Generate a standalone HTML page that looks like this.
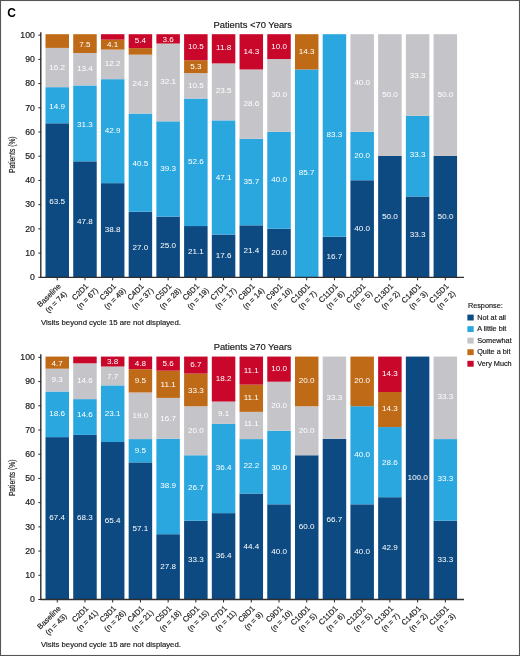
<!DOCTYPE html>
<html><head><meta charset="utf-8"><style>
html,body{margin:0;padding:0;background:#fff;width:520px;height:656px;overflow:hidden}
svg{display:block;filter:blur(0.35px)}
</style></head><body>
<svg width="520" height="656" viewBox="0 0 520 656" style="font-family:&quot;Liberation Sans&quot;, sans-serif">
<rect x="0.5" y="0.5" width="519" height="655" fill="none" stroke="#555" stroke-width="1.1"/>
<text x="7.2" y="17" font-size="12" font-weight="bold" fill="#000">C</text>
<text x="252.7" y="28.25" font-size="9.4" text-anchor="middle" fill="#1a1a1a" stroke="#1a1a1a" stroke-width="0.18">Patients &lt;70 Years</text>
<text transform="translate(14.8,154.65) rotate(-90) scale(0.79,1)" font-size="8.5" text-anchor="middle" fill="#1a1a1a" stroke="#1a1a1a" stroke-width="0.18">Patients (%)</text>
<rect x="45.50" y="123.28" width="23.5" height="153.92" fill="#0d4a82"/>
<rect x="45.50" y="87.16" width="23.5" height="36.12" fill="#2ba7e0"/>
<rect x="45.50" y="47.89" width="23.5" height="39.27" fill="#c5c4c9"/>
<rect x="45.50" y="34.20" width="23.5" height="13.69" fill="#bf6a17"/>
<text x="57.25" y="204.44" font-size="8.1" text-anchor="middle" fill="#fff">63.5</text>
<text x="57.25" y="108.62" font-size="8.1" text-anchor="middle" fill="#fff">14.9</text>
<text x="57.25" y="70.32" font-size="8.1" text-anchor="middle" fill="#fff">16.2</text>
<line x1="57.25" y1="277.30" x2="57.25" y2="280.30" stroke="#222" stroke-width="1.0"/>
<text transform="translate(61.17,286.74) rotate(-45)" font-size="7.7" fill="#1a1a1a" stroke="#1a1a1a" stroke-width="0.18"><tspan x="0" y="0" text-anchor="end">Baseline</tspan><tspan x="-14.47" y="9.8" text-anchor="middle">(n = 74)</tspan></text>
<rect x="73.22" y="161.33" width="23.5" height="115.87" fill="#0d4a82"/>
<rect x="73.22" y="85.46" width="23.5" height="75.87" fill="#2ba7e0"/>
<rect x="73.22" y="52.98" width="23.5" height="32.48" fill="#c5c4c9"/>
<rect x="73.22" y="34.20" width="23.5" height="18.78" fill="#bf6a17"/>
<text x="84.97" y="223.77" font-size="8.1" text-anchor="middle" fill="#fff">47.8</text>
<text x="84.97" y="126.75" font-size="8.1" text-anchor="middle" fill="#fff">31.3</text>
<text x="84.97" y="71.12" font-size="8.1" text-anchor="middle" fill="#fff">13.4</text>
<text x="84.97" y="46.74" font-size="8.1" text-anchor="middle" fill="#fff">7.5</text>
<line x1="84.97" y1="277.30" x2="84.97" y2="280.30" stroke="#222" stroke-width="1.0"/>
<text transform="translate(88.89,286.74) rotate(-45)" font-size="7.7" fill="#1a1a1a" stroke="#1a1a1a" stroke-width="0.18"><tspan x="0" y="0" text-anchor="end">C2D1</tspan><tspan x="-9.54" y="9.8" text-anchor="middle">(n = 67)</tspan></text>
<rect x="100.94" y="183.15" width="23.5" height="94.05" fill="#0d4a82"/>
<rect x="100.94" y="79.16" width="23.5" height="103.99" fill="#2ba7e0"/>
<rect x="100.94" y="49.59" width="23.5" height="29.57" fill="#c5c4c9"/>
<rect x="100.94" y="39.65" width="23.5" height="9.94" fill="#bf6a17"/>
<rect x="100.94" y="34.20" width="23.5" height="5.45" fill="#c9072b"/>
<text x="112.69" y="232.07" font-size="8.1" text-anchor="middle" fill="#fff">38.8</text>
<text x="112.69" y="133.05" font-size="8.1" text-anchor="middle" fill="#fff">42.9</text>
<text x="112.69" y="66.27" font-size="8.1" text-anchor="middle" fill="#fff">12.2</text>
<text x="112.69" y="46.52" font-size="8.1" text-anchor="middle" fill="#fff">4.1</text>
<line x1="112.69" y1="277.30" x2="112.69" y2="280.30" stroke="#222" stroke-width="1.0"/>
<text transform="translate(116.61,286.74) rotate(-45)" font-size="7.7" fill="#1a1a1a" stroke="#1a1a1a" stroke-width="0.18"><tspan x="0" y="0" text-anchor="end">C3D1</tspan><tspan x="-9.54" y="9.8" text-anchor="middle">(n = 49)</tspan></text>
<rect x="128.66" y="211.75" width="23.5" height="65.45" fill="#0d4a82"/>
<rect x="128.66" y="113.58" width="23.5" height="98.17" fill="#2ba7e0"/>
<rect x="128.66" y="54.68" width="23.5" height="58.90" fill="#c5c4c9"/>
<rect x="128.66" y="48.13" width="23.5" height="6.54" fill="#bf6a17"/>
<rect x="128.66" y="34.20" width="23.5" height="13.93" fill="#c9072b"/>
<text x="140.41" y="249.88" font-size="8.1" text-anchor="middle" fill="#fff">27.0</text>
<text x="140.41" y="166.37" font-size="8.1" text-anchor="middle" fill="#fff">40.5</text>
<text x="140.41" y="86.03" font-size="8.1" text-anchor="middle" fill="#fff">24.3</text>
<text x="140.41" y="43.49" font-size="8.1" text-anchor="middle" fill="#fff">5.4</text>
<line x1="140.41" y1="277.30" x2="140.41" y2="280.30" stroke="#222" stroke-width="1.0"/>
<text transform="translate(144.33,286.74) rotate(-45)" font-size="7.7" fill="#1a1a1a" stroke="#1a1a1a" stroke-width="0.18"><tspan x="0" y="0" text-anchor="end">C4D1</tspan><tspan x="-9.54" y="9.8" text-anchor="middle">(n = 37)</tspan></text>
<rect x="156.38" y="216.60" width="23.5" height="60.60" fill="#0d4a82"/>
<rect x="156.38" y="121.34" width="23.5" height="95.26" fill="#2ba7e0"/>
<rect x="156.38" y="43.53" width="23.5" height="77.81" fill="#c5c4c9"/>
<rect x="156.38" y="34.20" width="23.5" height="9.33" fill="#c9072b"/>
<text x="168.13" y="247.90" font-size="8.1" text-anchor="middle" fill="#fff">25.0</text>
<text x="168.13" y="170.87" font-size="8.1" text-anchor="middle" fill="#fff">39.3</text>
<text x="168.13" y="84.33" font-size="8.1" text-anchor="middle" fill="#fff">32.1</text>
<text x="168.13" y="42.06" font-size="8.1" text-anchor="middle" fill="#fff">3.6</text>
<line x1="168.13" y1="277.30" x2="168.13" y2="280.30" stroke="#222" stroke-width="1.0"/>
<text transform="translate(172.05,286.74) rotate(-45)" font-size="7.7" fill="#1a1a1a" stroke="#1a1a1a" stroke-width="0.18"><tspan x="0" y="0" text-anchor="end">C5D1</tspan><tspan x="-9.54" y="9.8" text-anchor="middle">(n = 28)</tspan></text>
<rect x="184.10" y="226.05" width="23.5" height="51.15" fill="#0d4a82"/>
<rect x="184.10" y="98.55" width="23.5" height="127.50" fill="#2ba7e0"/>
<rect x="184.10" y="73.10" width="23.5" height="25.45" fill="#c5c4c9"/>
<rect x="184.10" y="60.25" width="23.5" height="12.85" fill="#bf6a17"/>
<rect x="184.10" y="34.20" width="23.5" height="26.05" fill="#c9072b"/>
<text x="195.85" y="253.53" font-size="8.1" text-anchor="middle" fill="#fff">21.1</text>
<text x="195.85" y="163.60" font-size="8.1" text-anchor="middle" fill="#fff">52.6</text>
<text x="195.85" y="87.73" font-size="8.1" text-anchor="middle" fill="#fff">10.5</text>
<text x="195.85" y="69.18" font-size="8.1" text-anchor="middle" fill="#fff">5.3</text>
<text x="195.85" y="49.43" font-size="8.1" text-anchor="middle" fill="#fff">10.5</text>
<line x1="195.85" y1="277.30" x2="195.85" y2="280.30" stroke="#222" stroke-width="1.0"/>
<text transform="translate(199.77,286.74) rotate(-45)" font-size="7.7" fill="#1a1a1a" stroke="#1a1a1a" stroke-width="0.18"><tspan x="0" y="0" text-anchor="end">C6D1</tspan><tspan x="-9.54" y="9.8" text-anchor="middle">(n = 19)</tspan></text>
<rect x="211.82" y="234.54" width="23.5" height="42.66" fill="#0d4a82"/>
<rect x="211.82" y="120.37" width="23.5" height="114.17" fill="#2ba7e0"/>
<rect x="211.82" y="63.40" width="23.5" height="56.96" fill="#c5c4c9"/>
<rect x="211.82" y="34.20" width="23.5" height="29.20" fill="#c9072b"/>
<text x="223.57" y="258.27" font-size="8.1" text-anchor="middle" fill="#fff">17.6</text>
<text x="223.57" y="180.15" font-size="8.1" text-anchor="middle" fill="#fff">47.1</text>
<text x="223.57" y="93.19" font-size="8.1" text-anchor="middle" fill="#fff">23.5</text>
<text x="223.57" y="50.25" font-size="8.1" text-anchor="middle" fill="#fff">11.8</text>
<line x1="223.57" y1="277.30" x2="223.57" y2="280.30" stroke="#222" stroke-width="1.0"/>
<text transform="translate(227.49,286.74) rotate(-45)" font-size="7.7" fill="#1a1a1a" stroke="#1a1a1a" stroke-width="0.18"><tspan x="0" y="0" text-anchor="end">C7D1</tspan><tspan x="-9.54" y="9.8" text-anchor="middle">(n = 17)</tspan></text>
<rect x="239.54" y="225.33" width="23.5" height="51.87" fill="#0d4a82"/>
<rect x="239.54" y="138.79" width="23.5" height="86.54" fill="#2ba7e0"/>
<rect x="239.54" y="69.46" width="23.5" height="69.33" fill="#c5c4c9"/>
<rect x="239.54" y="34.20" width="23.5" height="35.26" fill="#c9072b"/>
<text x="251.29" y="253.16" font-size="8.1" text-anchor="middle" fill="#fff">21.4</text>
<text x="251.29" y="183.96" font-size="8.1" text-anchor="middle" fill="#fff">35.7</text>
<text x="251.29" y="106.03" font-size="8.1" text-anchor="middle" fill="#fff">28.6</text>
<text x="251.29" y="53.53" font-size="8.1" text-anchor="middle" fill="#fff">14.3</text>
<line x1="251.29" y1="277.30" x2="251.29" y2="280.30" stroke="#222" stroke-width="1.0"/>
<text transform="translate(255.21,286.74) rotate(-45)" font-size="7.7" fill="#1a1a1a" stroke="#1a1a1a" stroke-width="0.18"><tspan x="0" y="0" text-anchor="end">C8D1</tspan><tspan x="-9.54" y="9.8" text-anchor="middle">(n = 14)</tspan></text>
<rect x="267.26" y="228.72" width="23.5" height="48.48" fill="#0d4a82"/>
<rect x="267.26" y="131.76" width="23.5" height="96.96" fill="#2ba7e0"/>
<rect x="267.26" y="59.04" width="23.5" height="72.72" fill="#c5c4c9"/>
<rect x="267.26" y="34.20" width="23.5" height="24.84" fill="#c9072b"/>
<text x="279.01" y="254.86" font-size="8.1" text-anchor="middle" fill="#fff">20.0</text>
<text x="279.01" y="182.14" font-size="8.1" text-anchor="middle" fill="#fff">40.0</text>
<text x="279.01" y="97.30" font-size="8.1" text-anchor="middle" fill="#fff">30.0</text>
<text x="279.01" y="48.82" font-size="8.1" text-anchor="middle" fill="#fff">10.0</text>
<line x1="279.01" y1="277.30" x2="279.01" y2="280.30" stroke="#222" stroke-width="1.0"/>
<text transform="translate(282.93,286.74) rotate(-45)" font-size="7.7" fill="#1a1a1a" stroke="#1a1a1a" stroke-width="0.18"><tspan x="0" y="0" text-anchor="end">C9D1</tspan><tspan x="-9.54" y="9.8" text-anchor="middle">(n = 10)</tspan></text>
<rect x="294.98" y="69.46" width="23.5" height="207.74" fill="#2ba7e0"/>
<rect x="294.98" y="34.20" width="23.5" height="35.26" fill="#bf6a17"/>
<text x="306.73" y="175.23" font-size="8.1" text-anchor="middle" fill="#fff">85.7</text>
<text x="306.73" y="54.03" font-size="8.1" text-anchor="middle" fill="#fff">14.3</text>
<line x1="306.73" y1="277.30" x2="306.73" y2="280.30" stroke="#222" stroke-width="1.0"/>
<text transform="translate(310.65,286.74) rotate(-45)" font-size="7.7" fill="#1a1a1a" stroke="#1a1a1a" stroke-width="0.18"><tspan x="0" y="0" text-anchor="end">C10D1</tspan><tspan x="-11.68" y="9.8" text-anchor="middle">(n = 7)</tspan></text>
<rect x="322.70" y="236.72" width="23.5" height="40.48" fill="#0d4a82"/>
<rect x="322.70" y="34.20" width="23.5" height="202.52" fill="#2ba7e0"/>
<text x="334.45" y="258.86" font-size="8.1" text-anchor="middle" fill="#fff">16.7</text>
<text x="334.45" y="137.01" font-size="8.1" text-anchor="middle" fill="#fff">83.3</text>
<line x1="334.45" y1="277.30" x2="334.45" y2="280.30" stroke="#222" stroke-width="1.0"/>
<text transform="translate(338.37,286.74) rotate(-45)" font-size="7.7" fill="#1a1a1a" stroke="#1a1a1a" stroke-width="0.18"><tspan x="0" y="0" text-anchor="end">C11D1</tspan><tspan x="-11.40" y="9.8" text-anchor="middle">(n = 6)</tspan></text>
<rect x="350.42" y="180.24" width="23.5" height="96.96" fill="#0d4a82"/>
<rect x="350.42" y="131.76" width="23.5" height="48.48" fill="#2ba7e0"/>
<rect x="350.42" y="34.20" width="23.5" height="97.56" fill="#c5c4c9"/>
<text x="362.17" y="230.62" font-size="8.1" text-anchor="middle" fill="#fff">40.0</text>
<text x="362.17" y="157.90" font-size="8.1" text-anchor="middle" fill="#fff">20.0</text>
<text x="362.17" y="85.18" font-size="8.1" text-anchor="middle" fill="#fff">40.0</text>
<line x1="362.17" y1="277.30" x2="362.17" y2="280.30" stroke="#222" stroke-width="1.0"/>
<text transform="translate(366.09,286.74) rotate(-45)" font-size="7.7" fill="#1a1a1a" stroke="#1a1a1a" stroke-width="0.18"><tspan x="0" y="0" text-anchor="end">C12D1</tspan><tspan x="-11.68" y="9.8" text-anchor="middle">(n = 5)</tspan></text>
<rect x="378.14" y="156.00" width="23.5" height="121.20" fill="#0d4a82"/>
<rect x="378.14" y="34.20" width="23.5" height="121.80" fill="#c5c4c9"/>
<text x="389.89" y="218.50" font-size="8.1" text-anchor="middle" fill="#fff">50.0</text>
<text x="389.89" y="96.50" font-size="8.1" text-anchor="middle" fill="#fff">50.0</text>
<line x1="389.89" y1="277.30" x2="389.89" y2="280.30" stroke="#222" stroke-width="1.0"/>
<text transform="translate(393.81,286.74) rotate(-45)" font-size="7.7" fill="#1a1a1a" stroke="#1a1a1a" stroke-width="0.18"><tspan x="0" y="0" text-anchor="end">C13D1</tspan><tspan x="-11.68" y="9.8" text-anchor="middle">(n = 2)</tspan></text>
<rect x="405.86" y="196.48" width="23.5" height="80.72" fill="#0d4a82"/>
<rect x="405.86" y="115.76" width="23.5" height="80.72" fill="#2ba7e0"/>
<rect x="405.86" y="34.20" width="23.5" height="81.56" fill="#c5c4c9"/>
<text x="417.61" y="237.44" font-size="8.1" text-anchor="middle" fill="#fff">33.3</text>
<text x="417.61" y="156.62" font-size="8.1" text-anchor="middle" fill="#fff">33.3</text>
<text x="417.61" y="77.90" font-size="8.1" text-anchor="middle" fill="#fff">33.3</text>
<line x1="417.61" y1="277.30" x2="417.61" y2="280.30" stroke="#222" stroke-width="1.0"/>
<text transform="translate(421.53,286.74) rotate(-45)" font-size="7.7" fill="#1a1a1a" stroke="#1a1a1a" stroke-width="0.18"><tspan x="0" y="0" text-anchor="end">C14D1</tspan><tspan x="-11.68" y="9.8" text-anchor="middle">(n = 3)</tspan></text>
<rect x="433.58" y="156.00" width="23.5" height="121.20" fill="#0d4a82"/>
<rect x="433.58" y="34.20" width="23.5" height="121.80" fill="#c5c4c9"/>
<text x="445.33" y="218.50" font-size="8.1" text-anchor="middle" fill="#fff">50.0</text>
<text x="445.33" y="96.50" font-size="8.1" text-anchor="middle" fill="#fff">50.0</text>
<line x1="445.33" y1="277.30" x2="445.33" y2="280.30" stroke="#222" stroke-width="1.0"/>
<text transform="translate(449.25,286.74) rotate(-45)" font-size="7.7" fill="#1a1a1a" stroke="#1a1a1a" stroke-width="0.18"><tspan x="0" y="0" text-anchor="end">C15D1</tspan><tspan x="-11.68" y="9.8" text-anchor="middle">(n = 2)</tspan></text>
<line x1="40.8" y1="32.15" x2="40.8" y2="277.90" stroke="#2e2e2e" stroke-width="1.4"/>
<line x1="40.4" y1="277.30" x2="464" y2="277.30" stroke="#2e2e2e" stroke-width="1.3"/>
<line x1="38.3" y1="277.30" x2="41.1" y2="277.30" stroke="#2a2a2a" stroke-width="1.0"/>
<text transform="translate(34.85,280.05) scale(1.05,1)" font-size="8.3" text-anchor="end" fill="#1a1a1a" stroke="#1a1a1a" stroke-width="0.18">0</text>
<line x1="38.3" y1="253.09" x2="41.1" y2="253.09" stroke="#2a2a2a" stroke-width="1.0"/>
<text transform="translate(34.85,255.84) scale(1.05,1)" font-size="8.3" text-anchor="end" fill="#1a1a1a" stroke="#1a1a1a" stroke-width="0.18">10</text>
<line x1="38.3" y1="228.87" x2="41.1" y2="228.87" stroke="#2a2a2a" stroke-width="1.0"/>
<text transform="translate(34.85,231.62) scale(1.05,1)" font-size="8.3" text-anchor="end" fill="#1a1a1a" stroke="#1a1a1a" stroke-width="0.18">20</text>
<line x1="38.3" y1="204.66" x2="41.1" y2="204.66" stroke="#2a2a2a" stroke-width="1.0"/>
<text transform="translate(34.85,207.41) scale(1.05,1)" font-size="8.3" text-anchor="end" fill="#1a1a1a" stroke="#1a1a1a" stroke-width="0.18">30</text>
<line x1="38.3" y1="180.44" x2="41.1" y2="180.44" stroke="#2a2a2a" stroke-width="1.0"/>
<text transform="translate(34.85,183.19) scale(1.05,1)" font-size="8.3" text-anchor="end" fill="#1a1a1a" stroke="#1a1a1a" stroke-width="0.18">40</text>
<line x1="38.3" y1="156.23" x2="41.1" y2="156.23" stroke="#2a2a2a" stroke-width="1.0"/>
<text transform="translate(34.85,158.98) scale(1.05,1)" font-size="8.3" text-anchor="end" fill="#1a1a1a" stroke="#1a1a1a" stroke-width="0.18">50</text>
<line x1="38.3" y1="132.01" x2="41.1" y2="132.01" stroke="#2a2a2a" stroke-width="1.0"/>
<text transform="translate(34.85,134.76) scale(1.05,1)" font-size="8.3" text-anchor="end" fill="#1a1a1a" stroke="#1a1a1a" stroke-width="0.18">60</text>
<line x1="38.3" y1="107.80" x2="41.1" y2="107.80" stroke="#2a2a2a" stroke-width="1.0"/>
<text transform="translate(34.85,110.55) scale(1.05,1)" font-size="8.3" text-anchor="end" fill="#1a1a1a" stroke="#1a1a1a" stroke-width="0.18">70</text>
<line x1="38.3" y1="83.58" x2="41.1" y2="83.58" stroke="#2a2a2a" stroke-width="1.0"/>
<text transform="translate(34.85,86.33) scale(1.05,1)" font-size="8.3" text-anchor="end" fill="#1a1a1a" stroke="#1a1a1a" stroke-width="0.18">80</text>
<line x1="38.3" y1="59.37" x2="41.1" y2="59.37" stroke="#2a2a2a" stroke-width="1.0"/>
<text transform="translate(34.85,62.12) scale(1.05,1)" font-size="8.3" text-anchor="end" fill="#1a1a1a" stroke="#1a1a1a" stroke-width="0.18">90</text>
<line x1="38.3" y1="35.15" x2="41.1" y2="35.15" stroke="#2a2a2a" stroke-width="1.0"/>
<text transform="translate(34.85,37.90) scale(1.05,1)" font-size="8.3" text-anchor="end" fill="#1a1a1a" stroke="#1a1a1a" stroke-width="0.18">100</text>
<text x="41" y="324.70" font-size="7.75" fill="#1a1a1a" stroke="#1a1a1a" stroke-width="0.18">Visits beyond cycle 15 are not displayed.</text>
<text x="467.9" y="308.2" font-size="7.3" fill="#1a1a1a" stroke="#1a1a1a" stroke-width="0.18">Response:</text>
<rect x="467.4" y="314.60" width="6.3" height="5.9" fill="#0d4a82"/>
<text x="477.2" y="319.80" font-size="7.3" fill="#1a1a1a" stroke="#1a1a1a" stroke-width="0.18">Not at all</text>
<rect x="467.4" y="326.15" width="6.3" height="5.9" fill="#2ba7e0"/>
<text x="477.2" y="331.35" font-size="7.3" fill="#1a1a1a" stroke="#1a1a1a" stroke-width="0.18">A little bit</text>
<rect x="467.4" y="337.70" width="6.3" height="5.9" fill="#c5c4c9"/>
<text x="477.2" y="342.90" font-size="7.3" fill="#1a1a1a" stroke="#1a1a1a" stroke-width="0.18">Somewhat</text>
<rect x="467.4" y="349.25" width="6.3" height="5.9" fill="#bf6a17"/>
<text x="477.2" y="354.45" font-size="7.3" fill="#1a1a1a" stroke="#1a1a1a" stroke-width="0.18">Quite a bit</text>
<rect x="467.4" y="360.80" width="6.3" height="5.9" fill="#c9072b"/>
<text x="477.2" y="366.00" font-size="7.3" fill="#1a1a1a" stroke="#1a1a1a" stroke-width="0.18">Very Much</text>
<text x="252.7" y="350.45" font-size="9.4" text-anchor="middle" fill="#1a1a1a" stroke="#1a1a1a" stroke-width="0.18">Patients ≥70 Years</text>
<text transform="translate(14.8,477.85) rotate(-90) scale(0.79,1)" font-size="8.5" text-anchor="middle" fill="#1a1a1a" stroke="#1a1a1a" stroke-width="0.18">Patients (%)</text>
<rect x="45.50" y="437.12" width="23.5" height="162.38" fill="#0d4a82"/>
<rect x="45.50" y="391.51" width="23.5" height="45.61" fill="#2ba7e0"/>
<rect x="45.50" y="368.70" width="23.5" height="22.80" fill="#c5c4c9"/>
<rect x="45.50" y="356.58" width="23.5" height="12.12" fill="#bf6a17"/>
<text x="57.25" y="520.21" font-size="8.1" text-anchor="middle" fill="#fff">67.4</text>
<text x="57.25" y="415.71" font-size="8.1" text-anchor="middle" fill="#fff">18.6</text>
<text x="57.25" y="382.01" font-size="8.1" text-anchor="middle" fill="#fff">9.3</text>
<text x="57.25" y="365.64" font-size="8.1" text-anchor="middle" fill="#fff">4.7</text>
<line x1="57.25" y1="599.50" x2="57.25" y2="602.50" stroke="#222" stroke-width="1.0"/>
<text transform="translate(61.17,608.94) rotate(-45)" font-size="7.7" fill="#1a1a1a" stroke="#1a1a1a" stroke-width="0.18"><tspan x="0" y="0" text-anchor="end">Baseline</tspan><tspan x="-14.47" y="9.8" text-anchor="middle">(n = 43)</tspan></text>
<rect x="73.22" y="434.91" width="23.5" height="164.59" fill="#0d4a82"/>
<rect x="73.22" y="399.11" width="23.5" height="35.80" fill="#2ba7e0"/>
<rect x="73.22" y="363.31" width="23.5" height="35.80" fill="#c5c4c9"/>
<rect x="73.22" y="356.58" width="23.5" height="6.73" fill="#c9072b"/>
<text x="84.97" y="519.90" font-size="8.1" text-anchor="middle" fill="#fff">68.3</text>
<text x="84.97" y="417.06" font-size="8.1" text-anchor="middle" fill="#fff">14.6</text>
<text x="84.97" y="383.11" font-size="8.1" text-anchor="middle" fill="#fff">14.6</text>
<line x1="84.97" y1="599.50" x2="84.97" y2="602.50" stroke="#222" stroke-width="1.0"/>
<text transform="translate(88.89,608.94) rotate(-45)" font-size="7.7" fill="#1a1a1a" stroke="#1a1a1a" stroke-width="0.18"><tspan x="0" y="0" text-anchor="end">C2D1</tspan><tspan x="-9.54" y="9.8" text-anchor="middle">(n = 41)</tspan></text>
<rect x="100.94" y="442.02" width="23.5" height="157.48" fill="#0d4a82"/>
<rect x="100.94" y="385.38" width="23.5" height="56.64" fill="#2ba7e0"/>
<rect x="100.94" y="366.50" width="23.5" height="18.88" fill="#c5c4c9"/>
<rect x="100.94" y="356.58" width="23.5" height="9.92" fill="#c9072b"/>
<text x="112.69" y="522.66" font-size="8.1" text-anchor="middle" fill="#fff">65.4</text>
<text x="112.69" y="415.60" font-size="8.1" text-anchor="middle" fill="#fff">23.1</text>
<text x="112.69" y="379.44" font-size="8.1" text-anchor="middle" fill="#fff">7.7</text>
<text x="112.69" y="363.74" font-size="8.1" text-anchor="middle" fill="#fff">3.8</text>
<line x1="112.69" y1="599.50" x2="112.69" y2="602.50" stroke="#222" stroke-width="1.0"/>
<text transform="translate(116.61,608.94) rotate(-45)" font-size="7.7" fill="#1a1a1a" stroke="#1a1a1a" stroke-width="0.18"><tspan x="0" y="0" text-anchor="end">C3D1</tspan><tspan x="-9.54" y="9.8" text-anchor="middle">(n = 26)</tspan></text>
<rect x="128.66" y="462.37" width="23.5" height="137.13" fill="#0d4a82"/>
<rect x="128.66" y="439.08" width="23.5" height="23.29" fill="#2ba7e0"/>
<rect x="128.66" y="392.49" width="23.5" height="46.59" fill="#c5c4c9"/>
<rect x="128.66" y="369.19" width="23.5" height="23.29" fill="#bf6a17"/>
<rect x="128.66" y="356.58" width="23.5" height="12.61" fill="#c9072b"/>
<text x="140.41" y="531.49" font-size="8.1" text-anchor="middle" fill="#fff">57.1</text>
<text x="140.41" y="452.62" font-size="8.1" text-anchor="middle" fill="#fff">9.5</text>
<text x="140.41" y="417.68" font-size="8.1" text-anchor="middle" fill="#fff">19.0</text>
<text x="140.41" y="383.44" font-size="8.1" text-anchor="middle" fill="#fff">9.5</text>
<text x="140.41" y="366.06" font-size="8.1" text-anchor="middle" fill="#fff">4.8</text>
<line x1="140.41" y1="599.50" x2="140.41" y2="602.50" stroke="#222" stroke-width="1.0"/>
<text transform="translate(144.33,608.94) rotate(-45)" font-size="7.7" fill="#1a1a1a" stroke="#1a1a1a" stroke-width="0.18"><tspan x="0" y="0" text-anchor="end">C4D1</tspan><tspan x="-9.54" y="9.8" text-anchor="middle">(n = 21)</tspan></text>
<rect x="156.38" y="534.21" width="23.5" height="65.29" fill="#0d4a82"/>
<rect x="156.38" y="438.83" width="23.5" height="95.38" fill="#2ba7e0"/>
<rect x="156.38" y="397.88" width="23.5" height="40.95" fill="#c5c4c9"/>
<rect x="156.38" y="370.67" width="23.5" height="27.22" fill="#bf6a17"/>
<rect x="156.38" y="356.58" width="23.5" height="14.09" fill="#c9072b"/>
<text x="168.13" y="568.76" font-size="8.1" text-anchor="middle" fill="#fff">27.8</text>
<text x="168.13" y="488.42" font-size="8.1" text-anchor="middle" fill="#fff">38.9</text>
<text x="168.13" y="420.96" font-size="8.1" text-anchor="middle" fill="#fff">16.7</text>
<text x="168.13" y="387.02" font-size="8.1" text-anchor="middle" fill="#fff">11.1</text>
<text x="168.13" y="365.70" font-size="8.1" text-anchor="middle" fill="#fff">5.6</text>
<line x1="168.13" y1="599.50" x2="168.13" y2="602.50" stroke="#222" stroke-width="1.0"/>
<text transform="translate(172.05,608.94) rotate(-45)" font-size="7.7" fill="#1a1a1a" stroke="#1a1a1a" stroke-width="0.18"><tspan x="0" y="0" text-anchor="end">C5D1</tspan><tspan x="-9.54" y="9.8" text-anchor="middle">(n = 18)</tspan></text>
<rect x="184.10" y="520.73" width="23.5" height="78.77" fill="#0d4a82"/>
<rect x="184.10" y="455.26" width="23.5" height="65.47" fill="#2ba7e0"/>
<rect x="184.10" y="406.22" width="23.5" height="49.04" fill="#c5c4c9"/>
<rect x="184.10" y="373.61" width="23.5" height="32.61" fill="#bf6a17"/>
<rect x="184.10" y="356.58" width="23.5" height="17.03" fill="#c9072b"/>
<text x="195.85" y="562.01" font-size="8.1" text-anchor="middle" fill="#fff">33.3</text>
<text x="195.85" y="489.89" font-size="8.1" text-anchor="middle" fill="#fff">26.7</text>
<text x="195.85" y="432.64" font-size="8.1" text-anchor="middle" fill="#fff">20.0</text>
<text x="195.85" y="392.61" font-size="8.1" text-anchor="middle" fill="#fff">33.3</text>
<text x="195.85" y="366.74" font-size="8.1" text-anchor="middle" fill="#fff">6.7</text>
<line x1="195.85" y1="599.50" x2="195.85" y2="602.50" stroke="#222" stroke-width="1.0"/>
<text transform="translate(199.77,608.94) rotate(-45)" font-size="7.7" fill="#1a1a1a" stroke="#1a1a1a" stroke-width="0.18"><tspan x="0" y="0" text-anchor="end">C6D1</tspan><tspan x="-9.54" y="9.8" text-anchor="middle">(n = 15)</tspan></text>
<rect x="211.82" y="513.13" width="23.5" height="86.37" fill="#0d4a82"/>
<rect x="211.82" y="423.87" width="23.5" height="89.25" fill="#2ba7e0"/>
<rect x="211.82" y="401.56" width="23.5" height="22.31" fill="#c5c4c9"/>
<rect x="211.82" y="356.58" width="23.5" height="44.98" fill="#c9072b"/>
<text x="223.57" y="558.21" font-size="8.1" text-anchor="middle" fill="#fff">36.4</text>
<text x="223.57" y="470.40" font-size="8.1" text-anchor="middle" fill="#fff">36.4</text>
<text x="223.57" y="415.72" font-size="8.1" text-anchor="middle" fill="#fff">9.1</text>
<text x="223.57" y="380.65" font-size="8.1" text-anchor="middle" fill="#fff">18.2</text>
<line x1="223.57" y1="599.50" x2="223.57" y2="602.50" stroke="#222" stroke-width="1.0"/>
<text transform="translate(227.49,608.94) rotate(-45)" font-size="7.7" fill="#1a1a1a" stroke="#1a1a1a" stroke-width="0.18"><tspan x="0" y="0" text-anchor="end">C7D1</tspan><tspan x="-9.54" y="9.8" text-anchor="middle">(n = 11)</tspan></text>
<rect x="239.54" y="493.51" width="23.5" height="105.99" fill="#0d4a82"/>
<rect x="239.54" y="439.08" width="23.5" height="54.43" fill="#2ba7e0"/>
<rect x="239.54" y="411.86" width="23.5" height="27.22" fill="#c5c4c9"/>
<rect x="239.54" y="384.64" width="23.5" height="27.22" fill="#bf6a17"/>
<rect x="239.54" y="356.58" width="23.5" height="28.06" fill="#c9072b"/>
<text x="251.29" y="549.21" font-size="8.1" text-anchor="middle" fill="#fff">44.4</text>
<text x="251.29" y="468.19" font-size="8.1" text-anchor="middle" fill="#fff">22.2</text>
<text x="251.29" y="426.27" font-size="8.1" text-anchor="middle" fill="#fff">11.1</text>
<text x="251.29" y="400.15" font-size="8.1" text-anchor="middle" fill="#fff">11.1</text>
<text x="251.29" y="372.93" font-size="8.1" text-anchor="middle" fill="#fff">11.1</text>
<line x1="251.29" y1="599.50" x2="251.29" y2="602.50" stroke="#222" stroke-width="1.0"/>
<text transform="translate(255.21,608.94) rotate(-45)" font-size="7.7" fill="#1a1a1a" stroke="#1a1a1a" stroke-width="0.18"><tspan x="0" y="0" text-anchor="end">C8D1</tspan><tspan x="-9.54" y="9.8" text-anchor="middle">(n = 9)</tspan></text>
<rect x="267.26" y="504.30" width="23.5" height="95.20" fill="#0d4a82"/>
<rect x="267.26" y="430.74" width="23.5" height="73.56" fill="#2ba7e0"/>
<rect x="267.26" y="381.70" width="23.5" height="49.04" fill="#c5c4c9"/>
<rect x="267.26" y="356.58" width="23.5" height="25.12" fill="#c9072b"/>
<text x="279.01" y="553.80" font-size="8.1" text-anchor="middle" fill="#fff">40.0</text>
<text x="279.01" y="470.12" font-size="8.1" text-anchor="middle" fill="#fff">30.0</text>
<text x="279.01" y="408.12" font-size="8.1" text-anchor="middle" fill="#fff">20.0</text>
<text x="279.01" y="371.34" font-size="8.1" text-anchor="middle" fill="#fff">10.0</text>
<line x1="279.01" y1="599.50" x2="279.01" y2="602.50" stroke="#222" stroke-width="1.0"/>
<text transform="translate(282.93,608.94) rotate(-45)" font-size="7.7" fill="#1a1a1a" stroke="#1a1a1a" stroke-width="0.18"><tspan x="0" y="0" text-anchor="end">C9D1</tspan><tspan x="-9.54" y="9.8" text-anchor="middle">(n = 10)</tspan></text>
<rect x="294.98" y="455.26" width="23.5" height="144.24" fill="#0d4a82"/>
<rect x="294.98" y="406.22" width="23.5" height="49.04" fill="#c5c4c9"/>
<rect x="294.98" y="356.58" width="23.5" height="49.64" fill="#bf6a17"/>
<text x="306.73" y="529.28" font-size="8.1" text-anchor="middle" fill="#fff">60.0</text>
<text x="306.73" y="432.64" font-size="8.1" text-anchor="middle" fill="#fff">20.0</text>
<text x="306.73" y="382.90" font-size="8.1" text-anchor="middle" fill="#fff">20.0</text>
<line x1="306.73" y1="599.50" x2="306.73" y2="602.50" stroke="#222" stroke-width="1.0"/>
<text transform="translate(310.65,608.94) rotate(-45)" font-size="7.7" fill="#1a1a1a" stroke="#1a1a1a" stroke-width="0.18"><tspan x="0" y="0" text-anchor="end">C10D1</tspan><tspan x="-11.68" y="9.8" text-anchor="middle">(n = 5)</tspan></text>
<rect x="322.70" y="438.83" width="23.5" height="160.67" fill="#0d4a82"/>
<rect x="322.70" y="356.58" width="23.5" height="82.25" fill="#c5c4c9"/>
<text x="334.45" y="522.47" font-size="8.1" text-anchor="middle" fill="#fff">66.7</text>
<text x="334.45" y="399.91" font-size="8.1" text-anchor="middle" fill="#fff">33.3</text>
<line x1="334.45" y1="599.50" x2="334.45" y2="602.50" stroke="#222" stroke-width="1.0"/>
<text transform="translate(338.37,608.94) rotate(-45)" font-size="7.7" fill="#1a1a1a" stroke="#1a1a1a" stroke-width="0.18"><tspan x="0" y="0" text-anchor="end">C11D1</tspan><tspan x="-11.40" y="9.8" text-anchor="middle">(n = 6)</tspan></text>
<rect x="350.42" y="504.30" width="23.5" height="95.20" fill="#0d4a82"/>
<rect x="350.42" y="406.22" width="23.5" height="98.08" fill="#2ba7e0"/>
<rect x="350.42" y="356.58" width="23.5" height="49.64" fill="#bf6a17"/>
<text x="362.17" y="553.80" font-size="8.1" text-anchor="middle" fill="#fff">40.0</text>
<text x="362.17" y="457.16" font-size="8.1" text-anchor="middle" fill="#fff">40.0</text>
<text x="362.17" y="382.90" font-size="8.1" text-anchor="middle" fill="#fff">20.0</text>
<line x1="362.17" y1="599.50" x2="362.17" y2="602.50" stroke="#222" stroke-width="1.0"/>
<text transform="translate(366.09,608.94) rotate(-45)" font-size="7.7" fill="#1a1a1a" stroke="#1a1a1a" stroke-width="0.18"><tspan x="0" y="0" text-anchor="end">C12D1</tspan><tspan x="-11.68" y="9.8" text-anchor="middle">(n = 5)</tspan></text>
<rect x="378.14" y="497.19" width="23.5" height="102.31" fill="#0d4a82"/>
<rect x="378.14" y="427.06" width="23.5" height="70.13" fill="#2ba7e0"/>
<rect x="378.14" y="392.00" width="23.5" height="35.06" fill="#bf6a17"/>
<rect x="378.14" y="356.58" width="23.5" height="35.42" fill="#c9072b"/>
<text x="389.89" y="550.24" font-size="8.1" text-anchor="middle" fill="#fff">42.9</text>
<text x="389.89" y="464.53" font-size="8.1" text-anchor="middle" fill="#fff">28.6</text>
<text x="389.89" y="411.43" font-size="8.1" text-anchor="middle" fill="#fff">14.3</text>
<text x="389.89" y="376.37" font-size="8.1" text-anchor="middle" fill="#fff">14.3</text>
<line x1="389.89" y1="599.50" x2="389.89" y2="602.50" stroke="#222" stroke-width="1.0"/>
<text transform="translate(393.81,608.94) rotate(-45)" font-size="7.7" fill="#1a1a1a" stroke="#1a1a1a" stroke-width="0.18"><tspan x="0" y="0" text-anchor="end">C13D1</tspan><tspan x="-11.68" y="9.8" text-anchor="middle">(n = 7)</tspan></text>
<rect x="405.86" y="356.58" width="23.5" height="242.92" fill="#0d4a82"/>
<text x="417.61" y="480.24" font-size="8.1" text-anchor="middle" fill="#fff">100.0</text>
<line x1="417.61" y1="599.50" x2="417.61" y2="602.50" stroke="#222" stroke-width="1.0"/>
<text transform="translate(421.53,608.94) rotate(-45)" font-size="7.7" fill="#1a1a1a" stroke="#1a1a1a" stroke-width="0.18"><tspan x="0" y="0" text-anchor="end">C14D1</tspan><tspan x="-11.68" y="9.8" text-anchor="middle">(n = 2)</tspan></text>
<rect x="433.58" y="520.73" width="23.5" height="78.77" fill="#0d4a82"/>
<rect x="433.58" y="439.08" width="23.5" height="81.65" fill="#2ba7e0"/>
<rect x="433.58" y="356.58" width="23.5" height="82.50" fill="#c5c4c9"/>
<text x="445.33" y="561.51" font-size="8.1" text-anchor="middle" fill="#fff">33.3</text>
<text x="445.33" y="481.00" font-size="8.1" text-anchor="middle" fill="#fff">33.3</text>
<text x="445.33" y="399.35" font-size="8.1" text-anchor="middle" fill="#fff">33.3</text>
<line x1="445.33" y1="599.50" x2="445.33" y2="602.50" stroke="#222" stroke-width="1.0"/>
<text transform="translate(449.25,608.94) rotate(-45)" font-size="7.7" fill="#1a1a1a" stroke="#1a1a1a" stroke-width="0.18"><tspan x="0" y="0" text-anchor="end">C15D1</tspan><tspan x="-11.68" y="9.8" text-anchor="middle">(n = 3)</tspan></text>
<line x1="40.8" y1="354.35" x2="40.8" y2="600.10" stroke="#2e2e2e" stroke-width="1.4"/>
<line x1="40.4" y1="599.50" x2="464" y2="599.50" stroke="#2e2e2e" stroke-width="1.3"/>
<line x1="38.3" y1="599.50" x2="41.1" y2="599.50" stroke="#2a2a2a" stroke-width="1.0"/>
<text transform="translate(34.85,602.25) scale(1.05,1)" font-size="8.3" text-anchor="end" fill="#1a1a1a" stroke="#1a1a1a" stroke-width="0.18">0</text>
<line x1="38.3" y1="575.28" x2="41.1" y2="575.28" stroke="#2a2a2a" stroke-width="1.0"/>
<text transform="translate(34.85,578.03) scale(1.05,1)" font-size="8.3" text-anchor="end" fill="#1a1a1a" stroke="#1a1a1a" stroke-width="0.18">10</text>
<line x1="38.3" y1="551.07" x2="41.1" y2="551.07" stroke="#2a2a2a" stroke-width="1.0"/>
<text transform="translate(34.85,553.82) scale(1.05,1)" font-size="8.3" text-anchor="end" fill="#1a1a1a" stroke="#1a1a1a" stroke-width="0.18">20</text>
<line x1="38.3" y1="526.86" x2="41.1" y2="526.86" stroke="#2a2a2a" stroke-width="1.0"/>
<text transform="translate(34.85,529.61) scale(1.05,1)" font-size="8.3" text-anchor="end" fill="#1a1a1a" stroke="#1a1a1a" stroke-width="0.18">30</text>
<line x1="38.3" y1="502.64" x2="41.1" y2="502.64" stroke="#2a2a2a" stroke-width="1.0"/>
<text transform="translate(34.85,505.39) scale(1.05,1)" font-size="8.3" text-anchor="end" fill="#1a1a1a" stroke="#1a1a1a" stroke-width="0.18">40</text>
<line x1="38.3" y1="478.43" x2="41.1" y2="478.43" stroke="#2a2a2a" stroke-width="1.0"/>
<text transform="translate(34.85,481.18) scale(1.05,1)" font-size="8.3" text-anchor="end" fill="#1a1a1a" stroke="#1a1a1a" stroke-width="0.18">50</text>
<line x1="38.3" y1="454.21" x2="41.1" y2="454.21" stroke="#2a2a2a" stroke-width="1.0"/>
<text transform="translate(34.85,456.96) scale(1.05,1)" font-size="8.3" text-anchor="end" fill="#1a1a1a" stroke="#1a1a1a" stroke-width="0.18">60</text>
<line x1="38.3" y1="430.00" x2="41.1" y2="430.00" stroke="#2a2a2a" stroke-width="1.0"/>
<text transform="translate(34.85,432.75) scale(1.05,1)" font-size="8.3" text-anchor="end" fill="#1a1a1a" stroke="#1a1a1a" stroke-width="0.18">70</text>
<line x1="38.3" y1="405.78" x2="41.1" y2="405.78" stroke="#2a2a2a" stroke-width="1.0"/>
<text transform="translate(34.85,408.53) scale(1.05,1)" font-size="8.3" text-anchor="end" fill="#1a1a1a" stroke="#1a1a1a" stroke-width="0.18">80</text>
<line x1="38.3" y1="381.56" x2="41.1" y2="381.56" stroke="#2a2a2a" stroke-width="1.0"/>
<text transform="translate(34.85,384.31) scale(1.05,1)" font-size="8.3" text-anchor="end" fill="#1a1a1a" stroke="#1a1a1a" stroke-width="0.18">90</text>
<line x1="38.3" y1="357.35" x2="41.1" y2="357.35" stroke="#2a2a2a" stroke-width="1.0"/>
<text transform="translate(34.85,360.10) scale(1.05,1)" font-size="8.3" text-anchor="end" fill="#1a1a1a" stroke="#1a1a1a" stroke-width="0.18">100</text>
<text x="41" y="646.90" font-size="7.75" fill="#1a1a1a" stroke="#1a1a1a" stroke-width="0.18">Visits beyond cycle 15 are not displayed.</text>
</svg>
</body></html>
